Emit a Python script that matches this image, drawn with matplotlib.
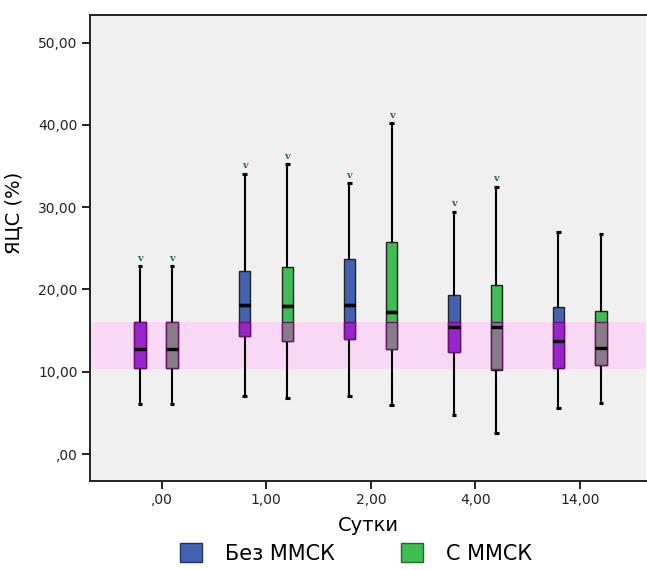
import numpy as np
import matplotlib.pyplot as plt

plt.rcParams['font.family'] = ['DejaVu Sans']

# categories (days)
days = [',00', '1,00', '2,00', '4,00', '14,00']

# Без ММСК
bez_lo = [6.1, 7.1, 7.0, 4.7, 5.6]
bez_q1 = [10.4, 14.35, 13.95, 12.4, 10.4]
bez_med = [12.8, 18.1, 18.1, 15.5, 13.8]
bez_q3 = [16.0, 22.3, 23.7, 19.35, 17.85]
bez_hi = [22.8, 34.1, 32.9, 29.4, 27.0]

# С ММСК
s_lo = [6.1, 6.8, 5.9, 2.6, 6.2]
s_q1 = [10.4, 13.75, 12.8, 10.25, 10.8]
s_med = [12.8, 18.0, 17.3, 15.4, 12.9]
s_q3 = [16.0, 22.7, 25.8, 20.6, 17.4]
s_hi = [22.8, 35.2, 40.2, 32.5, 26.8]

# "v" marks above the upper whisker
v_mark = [True, True, True, True, False]

# reference band
band_lo, band_hi = 10.3, 16.0

blue, green = '#4462b2', '#3dbd52'
blue_in, green_in = '#9725c9', '#877d84'
band_col = '#f8d8f4'

fig = plt.figure(figsize=(6.47, 5.70), dpi=100)
ax = fig.add_axes([90 / 647, 89 / 570, 556 / 647, 466 / 570])
ax.set_facecolor('#f0f0f0')

x = np.arange(len(days))
off_b = np.full(len(days), -0.206)
off_s = np.array([0.10, 0.20, 0.20, 0.20, 0.20])
w = 0.108

ax.axhspan(band_lo, band_hi, color=band_col, lw=0, zorder=1)


def draw(pos, lo, q1, med, q3, hi, col, col_in):
    stats = [dict(whislo=a, q1=b, med=c, q3=d, whishi=e, fliers=[])
             for a, b, c, d, e in zip(lo, q1, med, q3, hi)]
    ax.bxp(stats, positions=pos, widths=w, capwidths=0.045, patch_artist=True,
           manage_ticks=False, zorder=3,
           boxprops=dict(facecolor=col, edgecolor='#222222', lw=1.0),
           medianprops=dict(color='black', lw=2.4, solid_capstyle='butt'),
           whiskerprops=dict(color='black', lw=1.5),
           capprops=dict(color='black', lw=2.2, solid_capstyle='butt'))
    # part of the box that lies inside the band
    b0 = np.maximum(q1, band_lo)
    b1 = np.minimum(q3, band_hi)
    ax.bar(pos, b1 - b0, bottom=b0, width=w, color=col_in, edgecolor='#6a1070',
           lw=1.0, zorder=4)
    # medians again on top
    for p, m in zip(pos, med):
        ax.plot([p - w / 2, p + w / 2], [m, m], color='black', lw=2.4,
                solid_capstyle='butt', zorder=5)


draw(x + off_b, bez_lo, bez_q1, bez_med, bez_q3, bez_hi, blue, blue_in)
draw(x + off_s, s_lo, s_q1, s_med, s_q3, s_hi, green, green_in)

for i in range(len(days)):
    if v_mark[i]:
        for p, h in ((x[i] + off_b[i], bez_hi[i]), (x[i] + off_s[i], s_hi[i])):
            ax.text(p, h + 1.0, 'v', ha='center', va='center', fontsize=7,
                    color='#2f6f3f', family='DejaVu Serif', fontweight='bold')

ax.set_xlim(-0.685, 4.631)
ax.set_ylim(-3.28, 53.37)
ax.set_xticks(x)
ax.set_xticklabels(days)
ax.set_yticks(np.arange(0, 51, 10))
ax.set_yticklabels([',00', '10,00', '20,00', '30,00', '40,00', '50,00'])
ax.tick_params(axis='both', length=6, width=1.4, labelsize=10, color='#222222',
               labelcolor='#222222', pad=3)
for s in ax.spines.values():
    s.set_linewidth(1.4)
    s.set_color('#222222')
ax.spines['right'].set_visible(False)

ax.set_xlabel('Сутки', fontsize=14, labelpad=6)
ax.set_ylabel('ЯЦС (%)', fontsize=14)
ax.yaxis.set_label_coords(-0.12, 0.575)

hb = plt.Rectangle((0, 0), 1, 1, fc=blue, ec='#1f3070', lw=1)
hs = plt.Rectangle((0, 0), 1, 1, fc=green, ec='#1f6a2a', lw=1)
fig.legend([hb, hs], ['Без ММСК', 'С ММСК'], loc='upper left',
           bbox_to_anchor=(180 / 647, 1 - 543 / 570), ncol=2, frameon=False,
           fontsize=15, handlelength=1.05, handleheight=1.05, handletextpad=1.1,
           columnspacing=3.2, borderpad=0, borderaxespad=0)

fig.savefig('out.png', dpi=100)
